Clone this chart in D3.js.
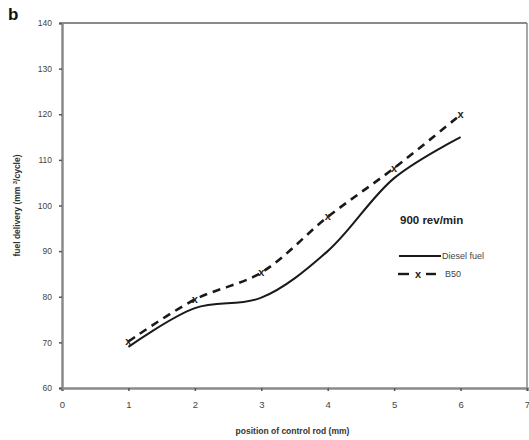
<!DOCTYPE html>
<html><head><meta charset="utf-8">
<script src="https://cdn.jsdelivr.net/npm/d3@7"></script>
<style>body{margin:0;background:#fff}svg{display:block}</style>
</head><body>
<svg id="c" width="529" height="440"></svg>
<script>
const positions = [1, 2, 3, 4, 5, 6];
const dieselFuel = [69, 77.5, 79.8, 90, 106, 115];
const b50 = [70.2, 79.4, 85.3, 97.5, 108.2, 119.9];
const xTicks = [0, 1, 2, 3, 4, 5, 6, 7];
const yTicks = [60, 70, 80, 90, 100, 110, 120, 130, 140];

const svg = d3.select("#c");
const L = 62, R = 527, T = 23, B = 388;
const x = d3.scaleLinear().domain([0, 7]).range([L, R]);
const y = d3.scaleLinear().domain([60, 140]).range([B, T]);
const axisCol = "#8a8a8a", txtCol = "#444";
const font = "Arial, 'Liberation Sans', sans-serif";

// frame (top & right)
svg.append("line").attr("x1", L).attr("x2", R).attr("y1", T).attr("y2", T).attr("stroke", axisCol).attr("stroke-width", 2);
svg.append("line").attr("x1", R).attr("x2", R).attr("y1", T).attr("y2", B).attr("stroke", axisCol).attr("stroke-width", 1.5);

const xa = svg.append("g").attr("transform", `translate(0,${B})`)
  .call(d3.axisBottom(x).tickValues(xTicks).tickSize(3).tickPadding(10).tickFormat(d3.format("d")));
const ya = svg.append("g").attr("transform", `translate(${L},0)`)
  .call(d3.axisLeft(y).tickValues(yTicks).tickSize(3).tickPadding(7).tickFormat(d3.format("d")));
[xa, ya].forEach(g => {
  g.select(".domain").attr("stroke", axisCol).attr("stroke-width", 2.5);
  g.selectAll(".tick line").attr("stroke", "#555").attr("stroke-width", 1.5);
  g.selectAll(".tick text").attr("fill", txtCol).attr("font-family", font).attr("font-size", 8.5);
});
xa.selectAll(".tick text").attr("font-size", 9.5);

// lines
const line = d3.line().x(d => x(d[0])).y(d => y(d[1])).curve(d3.curveCatmullRom.alpha(0.5));
svg.append("path").datum(positions.map((p, i) => [p, dieselFuel[i]]))
  .attr("d", line).attr("fill", "none").attr("stroke", "#1a1a1a").attr("stroke-width", 2);
svg.append("path").datum(positions.map((p, i) => [p, b50[i]]))
  .attr("d", line).attr("fill", "none").attr("stroke", "#1a1a1a").attr("stroke-width", 2.6)
  .attr("stroke-dasharray", "8,6");
svg.selectAll(".mk").data(positions.map((p, i) => [p, b50[i]])).enter().append("text")
  .attr("x", d => x(d[0])).attr("y", d => y(d[1]) + 3.5).attr("text-anchor", "middle")
  .attr("font-family", font).attr("font-size", 11).attr("font-weight", "bold").attr("fill", "#222").text("x");

// labels
svg.append("text").attr("x", 8).attr("y", 20).attr("font-family", font).attr("font-weight", "bold")
  .attr("font-size", 17).attr("fill", "#111").text("b");
svg.append("text").attr("x", (L + R) / 2 - 2).attr("y", 434).attr("text-anchor", "middle")
  .attr("font-family", font).attr("font-weight", "bold").attr("font-size", 8.5).attr("fill", "#333")
  .text("position of control rod (mm)");
svg.append("text").attr("transform", `translate(20,${(T + B) / 2}) rotate(-90)`).attr("text-anchor", "middle")
  .attr("font-family", font).attr("font-weight", "bold").attr("font-size", 8.5).attr("fill", "#333")
  .html("fuel delivery (mm <tspan dy='-3' font-size='6'>3</tspan><tspan dy='3'>/cycle)</tspan>");

svg.append("text").attr("x", 400).attr("y", 224).attr("font-family", font).attr("font-weight", "bold")
  .attr("font-size", 11.5).attr("fill", "#222").text("900 rev/min");

// legend
svg.append("line").attr("x1", 399).attr("x2", 441).attr("y1", 256).attr("y2", 256).attr("stroke", "#1a1a1a").attr("stroke-width", 2);
svg.append("text").attr("x", 442).attr("y", 259).attr("font-family", font).attr("font-size", 9).attr("fill", txtCol).text("Diesel fuel");
svg.append("line").attr("x1", 398).attr("x2", 409).attr("y1", 274).attr("y2", 274).attr("stroke", "#1a1a1a").attr("stroke-width", 2.4);
svg.append("line").attr("x1", 426).attr("x2", 436).attr("y1", 274).attr("y2", 274).attr("stroke", "#1a1a1a").attr("stroke-width", 2.4);
svg.append("text").attr("x", 418).attr("y", 277.5).attr("text-anchor", "middle").attr("font-family", font).attr("font-size", 11).attr("font-weight", "bold").attr("fill", "#222").text("x");
svg.append("text").attr("x", 445).attr("y", 277).attr("font-family", font).attr("font-size", 9).attr("fill", txtCol).text("B50");
</script>
</body></html>
